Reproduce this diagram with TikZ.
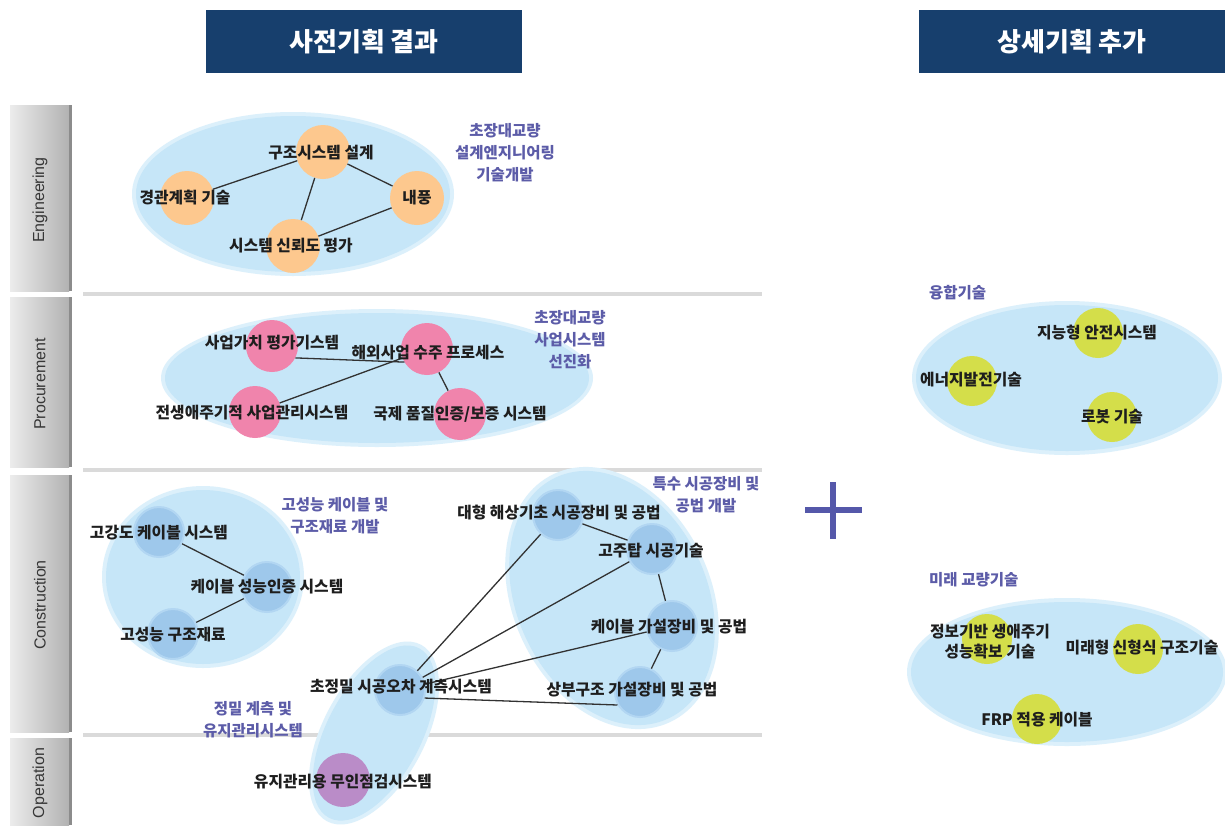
\documentclass[tikz,border=0pt]{standalone}
\usepackage{fontspec}
\setmainfont{Noto Sans CJK KR}
\newfontfamily\latinsans{Liberation Sans}
\definecolor{navy}{RGB}{23,63,109}
\definecolor{grpfill}{RGB}{198,230,248}
\definecolor{grphalo}{RGB}{220,240,251}
\definecolor{corange}{RGB}{253,200,142}
\definecolor{cpink}{RGB}{240,132,172}
\definecolor{cblue}{RGB}{158,200,235}
\definecolor{cbluehalo}{RGB}{178,214,242}
\definecolor{cpurple}{RGB}{186,140,200}
\definecolor{cyellow}{RGB}{212,222,74}
\definecolor{txt}{RGB}{30,30,30}
\definecolor{sidec}{RGB}{92,92,168}
\definecolor{edgec}{RGB}{50,50,50}
\definecolor{barL}{RGB}{236,236,236}
\definecolor{barR}{RGB}{178,178,178}
\definecolor{barE}{RGB}{140,140,140}
\definecolor{bartxt}{RGB}{55,55,55}
\definecolor{sepc}{RGB}{218,218,218}
\definecolor{plusc}{RGB}{85,88,170}
\begin{document}
\begin{tikzpicture}[x=1pt,y=-1pt,
  cir/.style={circle, inner sep=0pt, minimum size=50pt},
  ceng/.style={cir, fill=corange, minimum size=54pt},
  cpro/.style={cir, fill=cpink, minimum size=52pt},
  ccon/.style={cir, fill=cblue, draw=cbluehalo, line width=2pt},
  cop/.style={cir, fill=cpurple, minimum size=54pt},
  cnew/.style={cir, fill=cyellow},
  lbl/.style={font=\bfseries\fontsize{15.8}{20}\selectfont, text=txt, inner sep=0pt, align=center},
  side/.style={font=\bfseries\fontsize{15.5}{22}\selectfont, text=sidec, align=center, inner sep=0pt},
  edge/.style={draw=edgec, line width=1.3pt},
  barlbl/.style={rotate=90, font=\latinsans\fontsize{16}{18}\selectfont, text=bartxt, inner sep=0pt},
  sep/.style={draw=sepc, line width=4pt},
  hdr/.style={fill=navy, text=white, font=\bfseries\fontsize{26}{30}\selectfont, inner sep=0pt, minimum height=63pt},
  plus/.style={draw=plusc, line width=6.5pt}
]
\useasboundingbox (0,0) rectangle (1225,825);
\fill[white] (0,0) rectangle (1225,825);

% headers
\node[hdr, minimum width=316pt] (h1) at (364,41.5) {사전기획 결과};
\node[hdr, minimum width=306pt] (h2) at (1072,41.5) {상세기획 추가};

% side bars
\shade[left color=barL, right color=barR] (10,105) rectangle (69,291);
\fill[barE] (69,105) rectangle (72,291);
\shade[left color=barL, right color=barR] (10,297) rectangle (69,467);
\fill[barE] (69,297) rectangle (72,467);
\shade[left color=barL, right color=barR] (10,475) rectangle (69,732);
\fill[barE] (69,475) rectangle (72,732);
\shade[left color=barL, right color=barR] (10,738) rectangle (69,825);
\fill[barE] (69,738) rectangle (72,825);
\node[barlbl] (bE) at (40,200) {Engineering};
\node[barlbl] (bP) at (40,384) {Procurement};
\node[barlbl] (bC) at (40,605) {Construction};
\node[barlbl] (bO) at (40,783) {Operation};

% separators
\draw[sep] (83,294) -- (762,294);
\draw[sep] (83,470) -- (762,470);
\draw[sep] (83,735) -- (762,735);

% group ellipses
\fill[grphalo] (293,194) ellipse (161 and 82);
\fill[grpfill] (293,194) ellipse (157 and 78);
\fill[grphalo] (377,378) ellipse (216 and 69);
\fill[grpfill] (377,378) ellipse (212 and 65);
\fill[grphalo] (203,577) ellipse (101 and 91);
\fill[grpfill] (203,577) ellipse (97 and 87);
\fill[grphalo, rotate around={-65:(612,598)}] (612,598) ellipse (137 and 99);
\fill[grpfill, rotate around={-65:(612,598)}] (612,598) ellipse (133 and 95);
\fill[grphalo, rotate around={62:(374,733)}] (374,733) ellipse (100 and 51);
\fill[grpfill, rotate around={62:(374,733)}] (374,733) ellipse (96 and 47);
\fill[grphalo] (1067,378) ellipse (155 and 77);
\fill[grpfill] (1067,378) ellipse (151 and 73);
\fill[grphalo] (1067,672) ellipse (160 and 74);
\fill[grpfill] (1067,672) ellipse (156 and 70);

% plus
\draw[plus] (805,510) -- (862,510);
\draw[plus] (833,482) -- (833,539);

% engineering circles
\node[ceng] (e1) at (323,152) {};
\node[ceng] (e2) at (187,198) {};
\node[ceng] (e3) at (417,198) {};
\node[ceng] (e4) at (293,246) {};
% procurement circles
\node[cpro] (p1) at (272,346) {};
\node[cpro] (p2) at (427,349) {};
\node[cpro] (p3) at (255,412) {};
\node[cpro] (p4) at (460,414) {};
% construction circles
\node[ccon] (c1) at (159,532) {};
\node[ccon] (c2) at (267,587) {};
\node[ccon] (c3) at (173,634) {};
\node[ccon] (d1) at (558,515) {};
\node[ccon] (d2) at (652,549) {};
\node[ccon] (d3) at (672,626) {};
\node[ccon] (d4) at (640,692) {};
\node[ccon] (d5) at (400,690) {};
% operation
\node[cop] (o1) at (343,780) {};
% new circles
\node[cnew] (n1) at (1098,333) {};
\node[cnew] (n2) at (972,381) {};
\node[cnew] (n3) at (1112,417) {};
\node[cnew] (m1) at (987,639) {};
\node[cnew] (m2) at (1138,649) {};
\node[cnew] (m3) at (1037,719) {};

% connectors
\draw[edge] (e2) -- (e1);
\draw[edge] (e1) -- (e3);
\draw[edge] (e1) -- (e4);
\draw[edge] (e4) -- (e3);
\draw[edge] (p1.-27) -- (p2.210);
\draw[edge] (p3) -- (p2);
\draw[edge] (p2) -- (p4);
\draw[edge] (c1) -- (c2);
\draw[edge] (c2) -- (c3);
\draw[edge] (d1) -- (d2);
\draw[edge] (d2) -- (d3);
\draw[edge] (d3) -- (d4);
\draw[edge] (d5) -- (d1);
\draw[edge] (d5) -- (d2);
\draw[edge] (d5) -- (d3);
\draw[edge] (d5.-18) -- (d4.210);

% labels
\node[lbl] (le1) at (321,153) {구조시스템 설계};
\node[lbl] (le2) at (185,198) {경관계획 기술};
\node[lbl] (le3) at (417,198) {내풍};
\node[lbl] (le4) at (291,246) {시스템 신뢰도 평가};
\node[lbl] (lp1) at (272,343) {사업가치 평가기스템};
\node[lbl] (lp2) at (428,353) {해외사업 수주 프로세스};
\node[lbl] (lp3) at (252,413) {전생애주기적 사업관리시스템};
\node[lbl] (lp4) at (460,414) {국제 품질인증/보증 시스템};
\node[lbl] (lc1) at (159,533) {고강도 케이블 시스템};
\node[lbl] (lc2) at (267,587) {케이블 성능인증 시스템};
\node[lbl] (lc3) at (173,635) {고성능 구조재료};
\node[lbl] (ld1) at (559,513) {대형 해상기초 시공장비 및 공법};
\node[lbl] (ld2) at (651,551) {고주탑 시공기술};
\node[lbl] (ld3) at (669,627) {케이블 가설장비 및 공법};
\node[lbl] (ld4) at (632,690) {상부구조 가설장비 및 공법};
\node[lbl] (ld5) at (401,687) {초정밀 시공오차 계측시스템};
\node[lbl] (lo1) at (343,782) {유지관리용 무인점검시스템};
\node[lbl] (ln1) at (1097,333) {지능형 안전시스템};
\node[lbl] (ln2) at (971,380) {에너지발전기술};
\node[lbl] (ln3) at (1112,417) {로봇 기술};
\node[lbl] (lm1) at (990,642) {정보기반 생애주기\\성능확보 기술};
\node[lbl] (lm2) at (1142,648) {미래형 신형식 구조기술};
\node[lbl] (lm3) at (1037,720) {FRP 적용 케이블};

% side texts
\node[side] (s1) at (505,153) {초장대교량\\설계엔지니어링\\기술개발};
\node[side] (s2) at (570,340) {초장대교량\\사업시스템\\선진화};
\node[side] (s3) at (335,516) {고성능 케이블 및\\구조재료 개발};
\node[side] (s4) at (706,495) {특수 시공장비 및\\공법 개발};
\node[side] (s5) at (253,720) {정밀 계측 및\\유지관리시스템};
\node[side, anchor=west] (s6) at (929,293) {융합기술};
\node[side, anchor=west] (s7) at (929,580) {미래 교량기술};
\end{tikzpicture}
\end{document}
